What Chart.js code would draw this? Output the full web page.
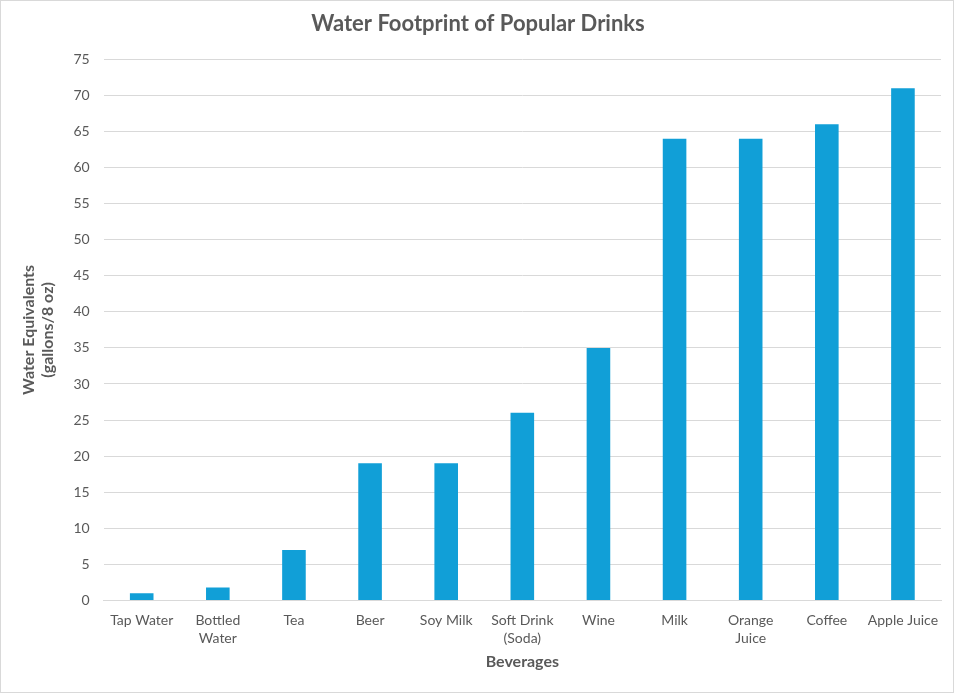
<!DOCTYPE html>
<html>
<head>
<meta charset="utf-8">
<script src="https://cdn.jsdelivr.net/npm/chart.js@4.4.0/dist/chart.umd.min.js"></script>
<style>
  html, body { margin: 0; padding: 0; background: #fff; }
  #wrap { position: absolute; left: 0; top: 0; width: 952px; height: 691px; border: 1px solid #d9d9d9; }
</style>
</head>
<body>
<div id="wrap"><canvas id="chart"></canvas></div>
<script>
// === data ===
const categories = [
  "Tap Water", ["Bottled", "Water"], "Tea", "Beer", "Soy Milk",
  ["Soft Drink", "(Soda)"], "Wine", "Milk", ["Orange", "Juice"], "Coffee", "Apple Juice"
];
const gallons = [1, 1.8, 7, 19, 19, 26, 35, 64, 64, 66, 71];
const yTicks = { min: 0, max: 75, step: 5 };

const grey = "#595959";
const font = "Lato, 'Open Sans', sans-serif";

new Chart(document.getElementById("chart"), {
  type: "bar",
  data: {
    labels: categories,
    datasets: [{
      data: gallons,
      backgroundColor: "#119fd7",
      barPercentage: 0.62,
      categoryPercentage: 0.5
    }]
  },
  options: {
    responsive: true,
    maintainAspectRatio: false,
    animation: false,
    layout: { padding: { left: 14, right: 12, top: 6, bottom: 17 } },
    plugins: {
      legend: { display: false },
      tooltip: { enabled: false },
      title: {
        display: true,
        text: "Water Footprint of Popular Drinks",
        color: grey,
        font: { family: font, size: 22, weight: "bold" },
        padding: { top: 4, bottom: 22 }
      }
    },
    scales: {
      x: {
        grid: { display: false },
        border: { color: "#d9d9d9" },
        ticks: { color: grey, font: { family: font, size: 14, lineHeight: 1.3 }, maxRotation: 0, autoSkip: false, padding: 3 },
        title: {
          display: true, text: "Beverages", color: grey,
          font: { family: font, size: 16, weight: "bold" }, padding: { top: 1 }
        }
      },
      y: {
        min: yTicks.min, max: yTicks.max,
        grid: { color: "#d9d9d9", drawTicks: false },
        border: { display: false },
        ticks: { stepSize: yTicks.step, color: grey, font: { family: font, size: 14 }, padding: 14 },
        title: {
          display: true, text: ["Water Equivalents", "(gallons/8 oz)"], color: grey,
          font: { family: font, size: 16, weight: "bold", lineHeight: 1.2 }, padding: { bottom: 2 }
        }
      }
    }
  }
});
</script>
</body>
</html>
